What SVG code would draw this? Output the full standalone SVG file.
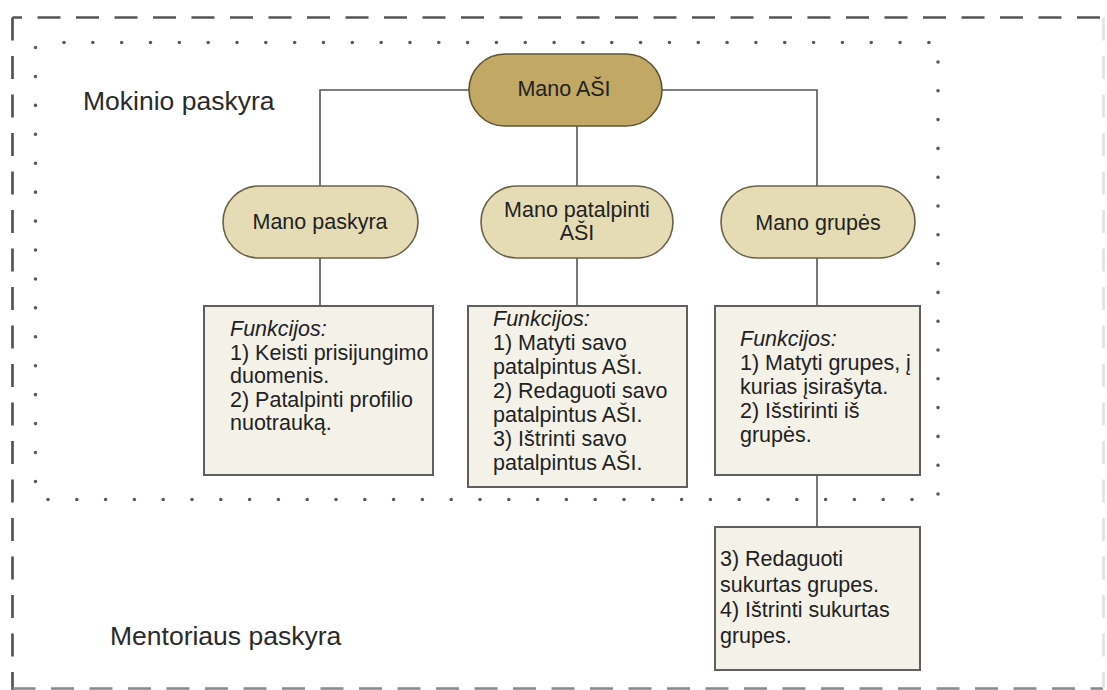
<svg xmlns="http://www.w3.org/2000/svg" width="1107" height="690" viewBox="0 0 1107 690">
<style>
.t{font-family:"Liberation Sans",Arial,sans-serif;fill:#222;font-size:21.5px}
.lbl{font-family:"Liberation Sans",Arial,sans-serif;fill:#2a2a2a;font-size:26.5px}
.c{text-anchor:middle}
.i{font-style:italic}
.top{fill:#c1a865;stroke:#5e5535;stroke-width:1.6}
.sub{fill:#e5dcb5;stroke:#6a6148;stroke-width:1.6}
.box{fill:#f4f1e8;stroke:#5f5f5f;stroke-width:2}
.conn{fill:none;stroke:#555;stroke-width:1.6}
.dash{fill:none;stroke:#555;stroke-width:2.7;stroke-dasharray:23 15.5}
.dot{fill:none;stroke:#5a5a5a;stroke-width:3.6;stroke-linecap:round}
</style>
<rect width="1107" height="690" fill="#ffffff"/>
<g id="mentoriaus-paskyra">
<path class="dash" d="M12.5,17.5 H1103" stroke-dashoffset="13.5"/>
<path class="dash" d="M12.5,17.5 V690"/>
<path class="dash" d="M12.5,688.5 H1103" style="stroke:#888"/>
<path class="dash" d="M1103.5,17.5 V688" style="stroke:#e2e2e2"/>
<text class="lbl" x="110" y="645">Mentoriaus paskyra</text>
</g>
<g id="mokinio-paskyra">
<path class="dot" d="M64,42.5 H929.5" stroke-dasharray="0 28.83"/>
<path class="dot" d="M938,62 V494.5" stroke-dasharray="0 28.8"/>
<path class="dot" d="M48,499.5 H912.5" stroke-dasharray="0 28.8"/>
<path class="dot" d="M35.5,47.5 V482" stroke-dasharray="0 28.93"/>
<text class="lbl" x="83" y="110">Mokinio paskyra</text>
</g>
<g id="connectors">
<path class="conn" d="M469,90 H320 V186"/>
<path class="conn" d="M662,90 H817 V186"/>
<path class="conn" d="M577,126 V186"/>
<path class="conn" d="M320,258 V306"/>
<path class="conn" d="M577,258 V306"/>
<path class="conn" d="M817,258 V306"/>
<path class="conn" d="M817,475 V527"/>
</g>
<g id="mano-asi">
<rect class="top" x="469" y="54" width="193" height="72" rx="36" ry="36"/>
<text class="t c" x="564" y="96">Mano AŠI</text>
</g>
<g id="mano-paskyra">
<rect class="sub" x="223" y="186" width="195" height="72" rx="36" ry="36"/>
<text class="t c" x="320" y="229">Mano paskyra</text>
</g>
<g id="mano-patalpinti-asi">
<rect class="sub" x="481" y="186" width="192" height="72" rx="36" ry="36"/>
<text class="t c" x="577" y="217">Mano patalpinti</text>
<text class="t c" x="577" y="240">AŠI</text>
</g>
<g id="mano-grupes">
<rect class="sub" x="721" y="186" width="194" height="72" rx="36" ry="36"/>
<text class="t c" x="818" y="230">Mano grupės</text>
</g>
<g id="funkcijos-paskyra">
<rect class="box" x="204" y="306" width="229" height="169"/>
<text class="t i" x="230" y="336">Funkcijos:</text>
<text class="t" x="230" y="359.5">1) Keisti prisijungimo</text>
<text class="t" x="230" y="383">duomenis.</text>
<text class="t" x="230" y="406.5">2) Patalpinti profilio</text>
<text class="t" x="230" y="430">nuotrauką.</text>
</g>
<g id="funkcijos-asi">
<rect class="box" x="468" y="306" width="219" height="181"/>
<text class="t i" x="493" y="326">Funkcijos:</text>
<text class="t" x="493" y="350">1) Matyti savo</text>
<text class="t" x="493" y="374">patalpintus AŠI.</text>
<text class="t" x="493" y="398">2) Redaguoti savo</text>
<text class="t" x="493" y="422">patalpintus AŠI.</text>
<text class="t" x="493" y="446">3) Ištrinti savo</text>
<text class="t" x="493" y="470">patalpintus AŠI.</text>
</g>
<g id="funkcijos-grupes">
<rect class="box" x="715" y="306" width="205" height="169"/>
<text class="t i" x="740" y="346">Funkcijos:</text>
<text class="t" x="740" y="370">1) Matyti grupes, į</text>
<text class="t" x="740" y="394">kurias įsirašyta.</text>
<text class="t" x="740" y="418">2) Išstirinti iš</text>
<text class="t" x="740" y="442">grupės.</text>
</g>
<g id="mentoriaus-funkcijos">
<rect class="box" x="715" y="527" width="205" height="143"/>
<text class="t" x="720" y="566">3) Redaguoti</text>
<text class="t" x="720" y="591.5">sukurtas grupes.</text>
<text class="t" x="720" y="617">4) Ištrinti sukurtas</text>
<text class="t" x="720" y="642.5">grupes.</text>
</g>
</svg>
